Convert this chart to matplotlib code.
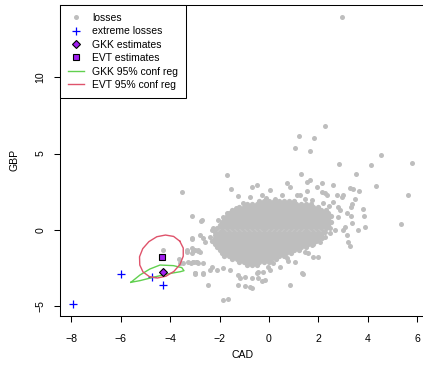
import matplotlib
matplotlib.use("Agg")
import matplotlib.pyplot as plt
from matplotlib.lines import Line2D

plt.rcParams['font.family'] = ['Liberation Sans', 'DejaVu Sans']
plt.rcParams['axes.unicode_minus'] = True

# scattered losses around the dense core (CAD, GBP)
loss_x = [2.97, 2.25, 1.21, 1.82, 1.05, 1.67, 4.53, 2.85, 4.14, 5.78, 3.52, 4.34, 5.62, 5.36,
          -1.69, 1.30, -1.54, -1.24, -3.53, -3.13, -2.77, -2.25,
          -0.70, -0.50, -0.77, -0.30, 0.04, 0.72, 0.85, 0.51, 1.53, 1.66, 1.26, 1.93, 2.13, 2.13,
          2.34, 2.60, 2.74, 2.94, 1.53, 1.12, 2.27,
          3.48, 3.35, 3.82, 3.86, 3.31, 3.31, 3.35, 3.08, 3.89, 3.15, 3.30, 3.62, 3.01, 2.81, 2.87,
          2.60, 3.15, 2.81, 3.01, 3.21, 2.67, 3.28, 3.41, 3.66,
          2.47, 2.27, 2.06, 2.00, 1.79, 1.46, 1.59, 1.05, 1.32, 0.72, 0.45, 0.85, 0.04, -0.16, 0.78,
          1.36, 1.73, 1.86, 2.13, 2.27, 2.47, -0.43, -0.23, -0.43, -0.27, -0.03, 0.17,
          -0.50, -0.70, -0.97, -1.17, -1.24, -0.97, -0.77, -1.58, -1.85, -2.12, -2.39, -2.66, -3.00,
          -2.46, -3.06, -2.86, -1.24, -0.70, -1.85, -1.67,
          -3.00, -2.79, -3.13, -2.66, -2.39, -2.59, -2.72, -2.32, -2.19, -2.05, -1.85, -1.71, -1.51,
          -3.13, -3.33, -3.06, -2.86, -2.96, -3.17, -2.66, -2.32, -3.00, -2.66,
          -4.28, -3.63, -3.47, -3.60, -3.13, -3.13, -3.33, -2.86, -3.27, -3.06, -2.93, -3.00, -2.79,
          2.20, 2.45, -1.35, -1.05, 1.45, 1.75, 0.25, -0.10]
loss_y = [13.94, 6.82, 6.16, 6.03, 5.38, 5.18, 4.88, 4.33, 4.23, 4.40, 3.68, 2.88, 2.31, 0.41,
          3.59, 3.64, 2.66, 2.22, 2.46, 0.94, 0.59, 0.11,
          2.83, 2.94, 2.18, 2.29, 2.61, 3.05, 2.83, 2.29, 3.16, 3.27, 2.29, 2.83, 3.05, 2.50,
          2.29, 2.94, 2.29, 2.18, 2.57, 2.29, 2.40,
          2.00, 1.70, 1.35, 0.92, 1.48, 0.92, 0.44, 0.22, 0.22, -0.33, -1.03, -0.02, 2.29, 1.52, 1.31,
          1.85, 1.09, 0.87, 0.00, -0.76, 0.00, 2.75, 2.66, 2.55,
          -0.22, -0.44, -0.76, -1.74, -1.79, -1.42, -1.52, -2.07, -2.83, -1.85, -2.40, -3.59, -2.61, -3.27, -2.03,
          -2.90, -0.98, -0.65, -0.54, -0.11, 0.11, -2.72, -2.72, -3.16, -3.33, -2.40, -2.18,
          -2.83, -3.16, -3.05, -3.16, -3.59, -3.66, -3.70, -2.61, -2.50, -2.61, -2.61, -2.83, -2.83,
          -3.59, -2.07, -2.18, -2.94, -3.77, -4.58, -4.51,
          -1.31, -1.42, -1.52, -0.54, -0.44, -0.76, 0.65, 0.00, -0.33, 0.65, 0.87, 1.09, 0.98,
          -0.59, -1.31, -1.37, -1.31, -2.07, -2.14, -2.18, -2.40, -2.90, -2.90,
          -1.28, -1.92, -2.18, -2.18, -1.20, -0.54, -1.42, -1.35, -2.07, -2.07, -2.07, -2.79, -0.33,
          1.75, 1.55, 1.45, 1.75, 2.05, 1.95, 2.05, 2.10]

# dense core of the losses, read row by row: (GBP, [CAD values])
core_rows = [
    (1.9, [-0.4, -0.2, 0.0, 0.2, 0.4, 0.6, 0.8, 1.0]),
    (1.7, [-0.9, -0.7, -0.5, -0.3, -0.1, 0.1, 0.3, 0.5, 0.7, 0.9, 1.1, 1.3, 1.5, 1.7]),
    (1.5, [-1.2, -1.0, -0.8, -0.6, -0.4, -0.2, 0.0, 0.2, 0.4, 0.6, 0.8, 1.0, 1.2, 1.4, 1.6, 1.8, 2.0]),
    (1.3, [-1.5, -1.3, -1.1, -0.9, -0.7, -0.5, -0.3, -0.1, 0.1, 0.3, 0.5, 0.7, 0.9, 1.1, 1.3, 1.5, 1.7,
           1.9, 2.1, 2.3]),
    (1.1, [-1.6, -1.4, -1.2, -1.0, -0.8, -0.6, -0.4, -0.2, 0.0, 0.2, 0.4, 0.6, 0.8, 1.0, 1.2, 1.4, 1.6,
           1.8, 2.0, 2.2, 2.4]),
    (0.9, [-1.7, -1.5, -1.3, -1.1, -0.9, -0.7, -0.5, -0.3, -0.1, 0.1, 0.3, 0.5, 0.7, 0.9, 1.1, 1.3, 1.5,
           1.7, 1.9, 2.1, 2.3, 2.5]),
    (0.7, [-1.8, -1.6, -1.4, -1.2, -1.0, -0.8, -0.6, -0.4, -0.2, 0.0, 0.2, 0.4, 0.6, 0.8, 1.0, 1.2, 1.4,
           1.6, 1.8, 2.0, 2.2, 2.4]),
    (0.5, [-1.9, -1.7, -1.5, -1.3, -1.1, -0.9, -0.7, -0.5, -0.3, -0.1, 0.1, 0.3, 0.5, 0.7, 0.9, 1.1, 1.3,
           1.5, 1.7, 1.9, 2.1, 2.3, 2.5]),
    (0.3, [-2.0, -1.8, -1.6, -1.4, -1.2, -1.0, -0.8, -0.6, -0.4, -0.2, 0.0, 0.2, 0.4, 0.6, 0.8, 1.0, 1.2,
           1.4, 1.6, 1.8, 2.0, 2.2, 2.4]),
    (0.1, [-2.1, -1.9, -1.7, -1.5, -1.3, -1.1, -0.9, -0.7, -0.5, -0.3, -0.1, 0.1, 0.3, 0.5, 0.7, 0.9, 1.1,
           1.3, 1.5, 1.7, 1.9, 2.1, 2.3]),
    (-0.1, [-2.2, -2.0, -1.8, -1.6, -1.4, -1.2, -1.0, -0.8, -0.6, -0.4, -0.2, 0.0, 0.2, 0.4, 0.6, 0.8, 1.0,
            1.2, 1.4, 1.6, 1.8, 2.0, 2.2]),
    (-0.3, [-2.1, -1.9, -1.7, -1.5, -1.3, -1.1, -0.9, -0.7, -0.5, -0.3, -0.1, 0.1, 0.3, 0.5, 0.7, 0.9, 1.1,
            1.3, 1.5, 1.7, 1.9, 2.1]),
    (-0.5, [-2.2, -2.0, -1.8, -1.6, -1.4, -1.2, -1.0, -0.8, -0.6, -0.4, -0.2, 0.0, 0.2, 0.4, 0.6, 0.8, 1.0,
            1.2, 1.4, 1.6, 1.8, 2.0]),
    (-0.7, [-2.3, -2.1, -1.9, -1.7, -1.5, -1.3, -1.1, -0.9, -0.7, -0.5, -0.3, -0.1, 0.1, 0.3, 0.5, 0.7, 0.9,
            1.1, 1.3, 1.5, 1.7, 1.9]),
    (-0.9, [-2.2, -2.0, -1.8, -1.6, -1.4, -1.2, -1.0, -0.8, -0.6, -0.4, -0.2, 0.0, 0.2, 0.4, 0.6, 0.8, 1.0,
            1.2, 1.4, 1.6, 1.8]),
    (-1.1, [-2.1, -1.9, -1.7, -1.5, -1.3, -1.1, -0.9, -0.7, -0.5, -0.3, -0.1, 0.1, 0.3, 0.5, 0.7, 0.9, 1.1,
            1.3, 1.5]),
    (-1.3, [-2.0, -1.8, -1.6, -1.4, -1.2, -1.0, -0.8, -0.6, -0.4, -0.2, 0.0, 0.2, 0.4, 0.6, 0.8, 1.0, 1.2]),
    (-1.5, [-1.9, -1.7, -1.5, -1.3, -1.1, -0.9, -0.7, -0.5, -0.3, -0.1, 0.1, 0.3, 0.5, 0.7, 0.9]),
    (-1.7, [-1.8, -1.6, -1.4, -1.2, -1.0, -0.8, -0.6, -0.4, -0.2, 0.0, 0.2, 0.4, 0.6]),
    (-1.9, [-1.5, -1.3, -1.1, -0.9, -0.7, -0.5, -0.3, -0.1, 0.1, 0.3]),
    (-2.1, [-1.2, -1.0, -0.8, -0.6, -0.4, -0.2, 0.0]),
    (-2.3, [-0.9, -0.7, -0.5]),
]

# extreme losses
extreme_x = [-7.92, -5.99, -4.30, -4.74]
extreme_y = [-4.86, -2.90, -3.59, -3.05]

# point estimates
gkk_x, gkk_y = [-4.30], [-2.73]
evt_x, evt_y = [-4.34], [-1.76]

# 95% confidence regions (outline vertices)
gkk_reg_x = [-5.59, -5.22, -4.82, -4.41, -3.87, -3.53, -3.44, -3.60, -4.14, -4.68, -5.22, -5.59]
gkk_reg_y = [-3.42, -2.94, -2.55, -2.29, -2.33, -2.46, -2.66, -2.73, -2.88, -3.09, -3.31, -3.42]
evt_reg_x = [-3.61, -3.47, -3.47, -3.60, -3.85, -4.17, -4.52, -4.85, -5.10, -5.23, -5.24, -5.11,
             -4.86, -4.54, -4.19, -3.86, -3.61]
evt_reg_y = [-0.73, -1.18, -1.71, -2.25, -2.71, -3.02, -3.14, -3.04, -2.74, -2.29, -1.75, -1.22,
             -0.76, -0.44, -0.33, -0.42, -0.73]

core_x = [x for y, xs in core_rows for x in xs]
core_y = [y for y, xs in core_rows for x in xs]

gray = '#BEBEBE'
green = '#61D04F'
red = '#DF536B'
purple = '#A020F0'

fig = plt.figure(figsize=(4.23, 3.68), dpi=100)
ax = fig.add_axes([60 / 423, 1 - 315.5 / 368, 365.8 / 423, 310.5 / 368])

ax.plot(core_x, core_y, 'o', color=gray, ms=3.8, mew=0, zorder=1)
ax.plot(loss_x, loss_y, 'o', color=gray, ms=3.6, mew=0, zorder=1)
ax.plot(extreme_x, extreme_y, '+', color='blue', ms=6, mew=0.9, zorder=2)
ax.plot(gkk_reg_x, gkk_reg_y, color=green, lw=1.0, zorder=3)
ax.plot(evt_reg_x, evt_reg_y, color=red, lw=1.0, zorder=3)
ax.plot(gkk_x, gkk_y, 'D', color=purple, mec='black', ms=4.4, mew=0.8, zorder=4)
ax.plot(evt_x, evt_y, 's', color=purple, mec='black', ms=4.4, mew=0.8, zorder=4)

ax.set_xlim(-8.46, 6.35)
ax.set_ylim(-5.59, 14.71)
ax.set_xticks([-8, -6, -4, -2, 0, 2, 4, 6])
ax.set_yticks([-5, 0, 5, 10])
ax.tick_params(direction='out', length=4.3, width=0.75, labelsize=7.6)
ax.tick_params(axis='x', pad=9)
ax.tick_params(axis='y', pad=6)
for lab in ax.get_yticklabels():
    lab.set_rotation(90)
    lab.set_va('center')
for s in ax.spines.values():
    s.set_linewidth(0.75)
ax.set_xlabel('CAD', fontsize=7.6, labelpad=4.5)
ax.set_ylabel('GBP', fontsize=7.6, labelpad=12)

handles = [
    Line2D([], [], ls='', marker='o', color=gray, ms=3.6, mew=0),
    Line2D([], [], ls='', marker='+', color='blue', ms=6, mew=0.9),
    Line2D([], [], ls='', marker='D', color=purple, mec='black', ms=4.4, mew=0.8),
    Line2D([], [], ls='', marker='s', color=purple, mec='black', ms=4.4, mew=0.8),
    Line2D([], [], color=green, lw=1.0),
    Line2D([], [], color=red, lw=1.0),
]
labels = ['losses', 'extreme losses', 'GKK estimates', 'EVT estimates',
          'GKK 95% conf reg', 'EVT 95% conf reg']
leg = ax.legend(handles, labels, loc='upper left', bbox_to_anchor=(0, 1), borderaxespad=0,
                fontsize=7.5, frameon=True, fancybox=False, framealpha=1, edgecolor='black',
                borderpad=0.75, labelspacing=0.33, handlelength=1.6, handletextpad=0.75)
leg.get_frame().set_linewidth(0.75)

fig.savefig('out.png', dpi=100)
